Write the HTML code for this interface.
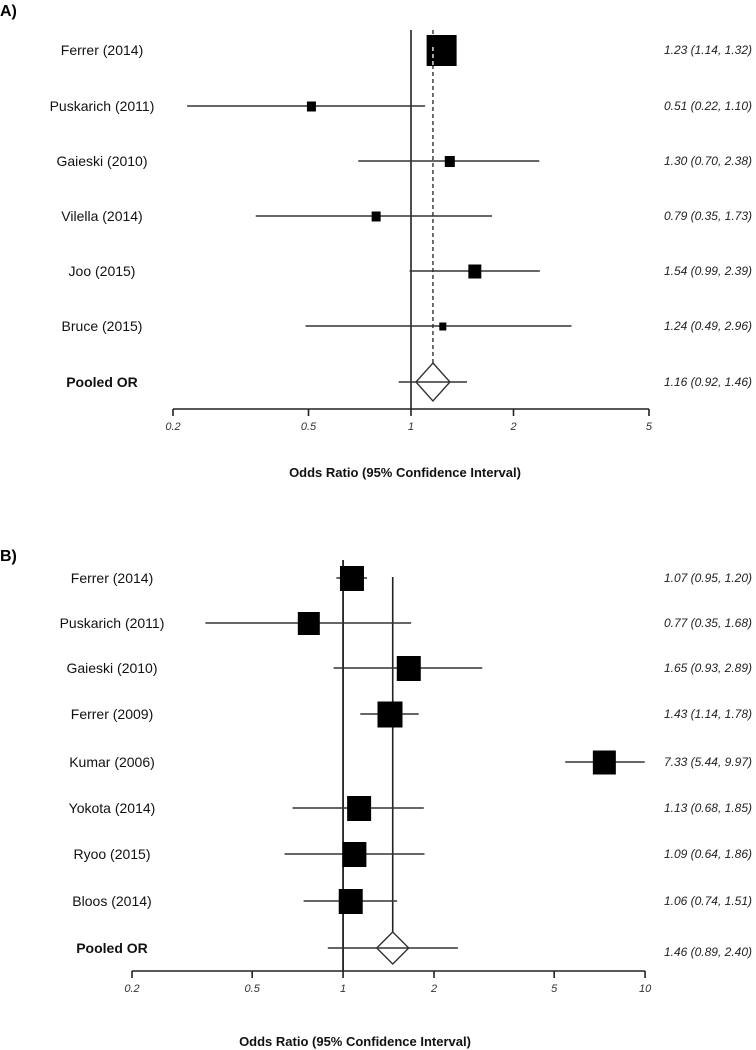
<!DOCTYPE html>
<html><head><meta charset="utf-8"><style>
html,body{margin:0;padding:0;background:#fff;}
svg{display:block;font-family:"Liberation Sans",sans-serif;}
</style></head><body>
<svg id="chart" width="756" height="1050" viewBox="0 0 756 1050">
<text x="0" y="16" font-size="16" font-weight="bold">A)</text>
<text x="0" y="561" font-size="16" font-weight="bold">B)</text>
<g id="pa"></g>
<g id="pb"></g>
</svg>
<script>
const aStudies=["Ferrer (2014)","Puskarich (2011)","Gaieski (2010)","Vilella (2014)","Joo (2015)","Bruce (2015)"];
const aOR=[1.23,0.51,1.30,0.79,1.54,1.24];
const aLo=[1.14,0.22,0.70,0.35,0.99,0.49];
const aHi=[1.32,1.10,2.38,1.73,2.39,2.96];
const aWeight=[30,9,10,9,13,7];
const aPooled=[1.16,0.92,1.46];
const aTicks=[0.2,0.5,1,2,5];
const aTickLabels=["0.2","0.5","1","2","5"];

const bStudies=["Ferrer (2014)","Puskarich (2011)","Gaieski (2010)","Ferrer (2009)","Kumar (2006)","Yokota (2014)","Ryoo (2015)","Bloos (2014)"];
const bOR=[1.07,0.77,1.65,1.43,7.33,1.13,1.09,1.06];
const bLo=[0.95,0.35,0.93,1.14,5.44,0.68,0.64,0.74];
const bHi=[1.20,1.68,2.89,1.78,9.97,1.85,1.86,1.51];
const bWeight=[24,22,24,25,23,24,24,24];
const bPooled=[1.46,0.89,2.40];
const bTicks=[0.2,0.5,1,2,5,10];
const bTickLabels=["0.2","0.5","1","2","5","10"];

const NS="http://www.w3.org/2000/svg";
function mk(parent,tag,attrs,text){const e=document.createElementNS(NS,tag);for(const k in attrs)e.setAttribute(k,attrs[k]);if(text!==undefined)e.textContent=text;parent.appendChild(e);return e;}
const fmt=v=>v.toFixed(2);

function panel(g,cfg){
  const x=v=>cfg.x1+(Math.log10(v)-Math.log10(cfg.t0))*cfg.k;
  // reference line at 1
  let e=mk(g,'line',{x1:x(1),x2:x(1),y1:cfg.refTop,y2:cfg.axisY,stroke:'#222','stroke-width':1.6});
  
  
  // pooled line
  e=mk(g,'line',{x1:x(cfg.pooled[0]),x2:x(cfg.pooled[0]),y1:cfg.poolTop,y2:cfg.dashed?cfg.rows[cfg.rows.length-1]-cfg.dh:cfg.axisY,stroke:'#222','stroke-width':cfg.dashed?1.3:1.6,'stroke-dasharray':cfg.dashed?'4,3':'none'});
  
  
  if(!cfg.dashed){/* line stops at diamond top */ e.setAttribute('y2',cfg.rows[cfg.rows.length-1]-cfg.dh);
    e=mk(g,'line',{x1:x(1),x2:x(1),y1:cfg.refTop,y2:cfg.axisY,stroke:'#222','stroke-width':1.6});}
  const n=cfg.studies.length;
  for(let i=0;i<n;i++){
    const y=cfg.rows[i];
    e=mk(g,'text',{x:cfg.labelX,y:y+5,'font-size':14,'text-anchor':'middle',fill:'#111'},cfg.studies[i]);
    
    
    e=mk(g,'line',{x1:x(cfg.lo[i]),x2:x(cfg.hi[i]),y1:y,y2:y,stroke:'#333','stroke-width':1.6});
    
    
    const s=cfg.w[i];
    e=mk(g,'rect',{x:x(cfg.or[i])-s/2,y:y-s/2,width:s,height:s+1,fill:'#000'});
    
    
    e=mk(g,'text',{x:752,y:y+4,'font-size':12,'font-style':'italic','text-anchor':'end',fill:'#222'},fmt(cfg.or[i])+' ('+fmt(cfg.lo[i])+', '+fmt(cfg.hi[i])+')');
    
    
  }
  if(cfg.dashed){
    const y0=cfg.rows[0];
    e=mk(g,'line',{x1:x(cfg.pooled[0]),x2:x(cfg.pooled[0]),y1:y0-3,y2:y0+15,stroke:'#fff','stroke-width':1.3,'stroke-dasharray':'4,3'});
  }
  const py=cfg.rows[n];
  e=mk(g,'text',{x:cfg.labelX,y:py+5,'font-size':14,'font-weight':'bold','text-anchor':'middle',fill:'#111'},'Pooled OR');
  
  
  e=mk(g,'line',{x1:x(cfg.pooled[1]),x2:x(cfg.pooled[2]),y1:py,y2:py,stroke:'#333','stroke-width':1.6});
  
  
  const px=x(cfg.pooled[0]);
  e=mk(g,'polygon',{points:`${px},${py-cfg.dh} ${px+cfg.dw},${py} ${px},${py+cfg.dh} ${px-cfg.dw},${py}`,fill:'none',stroke:'#333','stroke-width':1.4});
  
  
  e=mk(g,'text',{x:752,y:py+4+cfg.pdy,'font-size':12,'font-style':'italic','text-anchor':'end',fill:'#222'},fmt(cfg.pooled[0])+' ('+fmt(cfg.pooled[1])+', '+fmt(cfg.pooled[2])+')');
  
  
  // axis
  e=mk(g,'line',{x1:x(cfg.ticks[0]),x2:x(cfg.ticks[cfg.ticks.length-1]),y1:cfg.axisY,y2:cfg.axisY,stroke:'#222','stroke-width':1.6});
  
  
  cfg.ticks.forEach((t,j)=>{
    let tk=mk(g,'line',{x1:x(t),x2:x(t),y1:cfg.axisY,y2:cfg.axisY+7,stroke:'#222','stroke-width':1.6});
    
    
    tk=mk(g,'text',{x:x(t),y:cfg.axisY+21,'font-size':11,'font-style':'italic','text-anchor':'middle',fill:'#333'},cfg.tickLabels[j]);
    
    
  });
  e=mk(g,'text',{x:cfg.titleX,y:cfg.titleY,'font-size':13,'font-weight':'bold','text-anchor':'middle',fill:'#111'},'Odds Ratio (95% Confidence Interval)');
  
  
}
panel(document.getElementById('pa'),{studies:aStudies,or:aOR,lo:aLo,hi:aHi,w:aWeight,pooled:aPooled,ticks:aTicks,tickLabels:aTickLabels,
  x1:173,t0:0.2,k:340.5,axisY:409,refTop:30,poolTop:30,dashed:true,rows:[50,106,161,216,271,326,382],labelX:102,dw:17,dh:19,pdy:0,titleX:405,titleY:477});
panel(document.getElementById('pb'),{studies:bStudies,or:bOR,lo:bLo,hi:bHi,w:bWeight,pooled:bPooled,ticks:bTicks,tickLabels:bTickLabels,
  x1:132,t0:0.2,k:302,axisY:971,refTop:560,poolTop:577,dashed:false,rows:[578,623,668,714,762,808,854,901,948],labelX:112,dw:16,dh:16,pdy:4,titleX:355,titleY:1046});
</script>
</body></html>
